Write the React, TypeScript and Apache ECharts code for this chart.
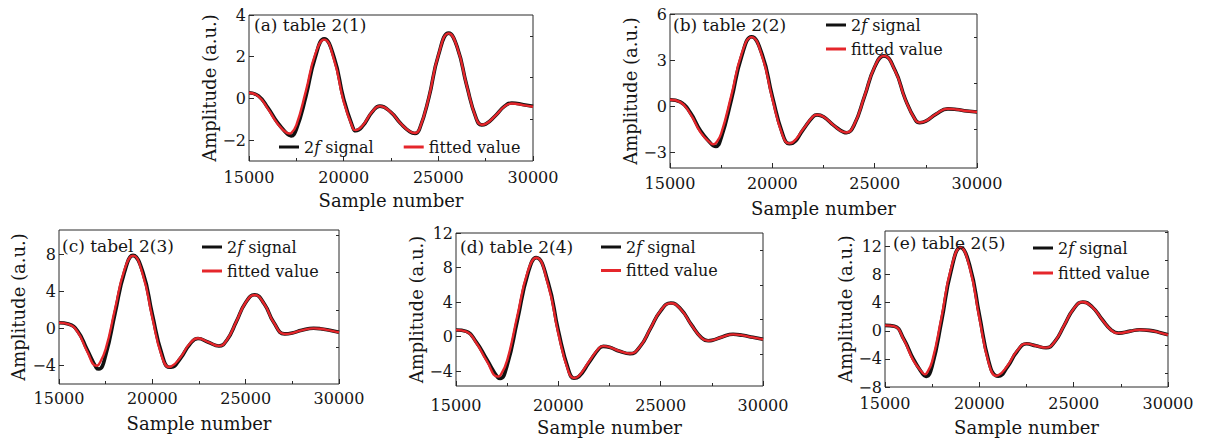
import React, { useEffect, useRef } from 'react';
import * as echarts from 'echarts';

// ---------- data ----------
const X_A = [15000, 15500, 16000, 16500, 17000, 17150, 17230, 17500, 18000, 18500, 18970, 19500, 20000, 20500, 20630, 21000, 21500, 21910, 22500, 23000, 23500, 23770, 24000, 24500, 25000, 25550, 26000, 26500, 27000, 27290, 27500, 28000, 28500, 28880, 29500, 30000];
const FIT_A = [0.27, 0.1, -0.5, -1.2, -1.65, -1.68, -1.66, -1.28, 0.34, 2.12, 2.82, 1.82, -0.15, -1.46, -1.52, -1.3, -0.64, -0.37, -0.67, -1.19, -1.59, -1.66, -1.47, 0.06, 2.08, 3.12, 2.44, 0.61, -0.97, -1.26, -1.22, -0.84, -0.38, -0.24, -0.32, -0.4];
const SIG_A = [0.27, 0.12, -0.45, -1.15, -1.68, -1.77, -1.8, -1.48, 0.08, 1.98, 2.86, 1.95, -0.02, -1.42, -1.55, -1.33, -0.66, -0.37, -0.67, -1.19, -1.6, -1.68, -1.48, 0.04, 2.06, 3.13, 2.45, 0.62, -0.96, -1.27, -1.23, -0.84, -0.37, -0.22, -0.3, -0.38];

const X_B = [15000, 15500, 16000, 16500, 17000, 17115, 17245, 17500, 18000, 18500, 18985, 19500, 20000, 20500, 20825, 21000, 21500, 22000, 22190, 22500, 23000, 23500, 23620, 24000, 24500, 25000, 25445, 26000, 26500, 27000, 27200, 27500, 28000, 28580, 29000, 29500, 30000];
const FIT_B = [0.43, 0.28, -0.5, -1.7, -2.4, -2.46, -2.38, -1.76, 0.73, 3.41, 4.5, 3.25, 0.49, -1.88, -2.4, -2.33, -1.49, -0.63, -0.54, -0.67, -1.23, -1.67, -1.69, -1.18, 0.66, 2.58, 3.28, 2.3, 0.44, -0.91, -1.05, -0.95, -0.49, -0.15, -0.2, -0.3, -0.36];
const SIG_B = [0.43, 0.3, -0.42, -1.6, -2.42, -2.55, -2.6, -2.05, 0.45, 3.25, 4.52, 3.38, 0.65, -1.78, -2.42, -2.38, -1.52, -0.65, -0.55, -0.67, -1.23, -1.68, -1.71, -1.2, 0.63, 2.56, 3.28, 2.33, 0.46, -0.9, -1.06, -0.96, -0.5, -0.16, -0.2, -0.3, -0.36];

const X_C = [15000, 15500, 16000, 16500, 17000, 17140, 17500, 18000, 18500, 18964, 19500, 20000, 20500, 20893, 21000, 21500, 22000, 22445, 23000, 23570, 24000, 24500, 25000, 25480, 26000, 26500, 27090, 27500, 28000, 28640, 29000, 29500, 30000];
const FIT_C = [0.61, 0.45, -0.4, -2.45, -4.03, -3.88, -2.23, 2.08, 6.28, 7.84, 5.7, 1.14, -2.98, -4.17, -4.13, -3.14, -1.66, -1.07, -1.49, -1.89, -1.23, 0.74, 2.79, 3.6, 2.61, 0.64, -0.61, -0.51, -0.22, 0.0, -0.05, -0.22, -0.43];
const SIG_C = [0.61, 0.47, -0.3, -2.25, -4.25, -4.39, -2.9, 1.6, 6.0, 7.86, 6.0, 1.5, -2.7, -4.2, -4.2, -3.25, -1.75, -1.1, -1.5, -1.9, -1.25, 0.72, 2.78, 3.62, 2.63, 0.66, -0.6, -0.5, -0.21, 0.01, -0.04, -0.21, -0.42];

const X_D = [15000, 15500, 16000, 16500, 17048, 17161, 17500, 18000, 18500, 18917, 19500, 20000, 20500, 20770, 21000, 21500, 22000, 22200, 22500, 23000, 23500, 24000, 24500, 25000, 25499, 26000, 26500, 27000, 27319, 27500, 28000, 28538, 29000, 29500, 30000];
const FIT_D = [0.78, 0.6, -0.75, -2.8, -4.62, -4.5, -2.73, 2.45, 7.51, 9.13, 6.0, 0.35, -4.06, -4.78, -4.55, -2.87, -1.27, -1.09, -1.2, -1.67, -1.94, -1.09, 0.97, 3.03, 3.88, 3.12, 1.37, -0.15, -0.47, -0.43, -0.03, 0.27, 0.15, -0.08, -0.31];
const SIG_D = [0.78, 0.62, -0.65, -2.6, -4.72, -4.82, -3.3, 1.9, 7.2, 9.15, 6.3, 0.7, -3.85, -4.8, -4.62, -2.98, -1.35, -1.12, -1.22, -1.68, -1.96, -1.12, 0.94, 3.0, 3.9, 3.15, 1.4, -0.13, -0.46, -0.42, -0.02, 0.28, 0.16, -0.07, -0.3];

const X_E = [15000, 15500, 16000, 16500, 17000, 17107, 17196, 17500, 18000, 18500, 19002, 19500, 20000, 20500, 20879, 21000, 21500, 22000, 22508, 23000, 23535, 24000, 24500, 25000, 25483, 26000, 26500, 27000, 27378, 28000, 28494, 29000, 29500, 30000];
const FIT_E = [0.77, 0.62, -1.3, -4.2, -6.0, -6.2, -6.1, -4.35, 2.0, 8.88, 11.83, 8.84, 1.82, -4.63, -6.39, -6.33, -4.94, -2.84, -1.83, -2.13, -2.4, -1.53, 0.8, 3.15, 4.09, 3.33, 1.62, 0.08, -0.34, -0.06, 0.14, 0.05, -0.22, -0.58];
const SIG_E = [0.77, 0.64, -1.2, -4.0, -6.15, -6.4, -6.49, -5.0, 1.4, 8.5, 11.85, 9.2, 2.3, -4.35, -6.4, -6.45, -5.1, -2.95, -1.85, -2.14, -2.42, -1.55, 0.78, 3.13, 4.1, 3.35, 1.64, 0.1, -0.33, -0.05, 0.15, 0.06, -0.21, -0.57];

const X_TICKS = [15000, 20000, 25000, 30000];
const Y_MAJOR_A = [-2, 0, 2, 4];
const Y_MINOR_A = [-1, 1, 3];
const Y_MAJOR_B = [-3, 0, 3, 6];
const Y_MINOR_B = [-1.5, 1.5, 4.5];
const Y_MAJOR_C = [-4, 0, 4, 8];
const Y_MINOR_C = [-2, 2, 6, 10];
const Y_MAJOR_D = [-4, 0, 4, 8, 12];
const Y_MINOR_D = [-2, 2, 6, 10];
const Y_MAJOR_E = [-8, -4, 0, 4, 8, 12];
const Y_MINOR_E = [-6, -2, 2, 6, 10, 14];

const PANEL_LABELS = ['(a) table 2(1)', '(b) table 2(2)', '(c) tabel 2(3)', '(d) table 2(4)', '(e) table 2(5)'];
const SERIES_NAMES = ['2f signal', 'fitted value'];
const X_NAME = 'Sample number';
const Y_NAME = 'Amplitude (a.u.)';

// ---------- layout / style ----------
const FONT = '"DejaVu Serif", serif';
const TXT = '#151515';
const FRAME = '#2a2a2a';
const BLACK = '#111111';
const RED = '#e5262b';

const panels = [
  { x: X_A, sig: SIG_A, fit: FIT_A, yMin: -3, yMax: 4, maj: Y_MAJOR_A, mnr: Y_MINOR_A,
    grid: { left: 249, top: 15, width: 284, height: 146 }, xMargin: 8, xGap: 30, yGap: 30,
    legend: { orient: 'horizontal', left: 279, top: 138, itemGap: 30 }, title: { left: 254, top: 16 } },
  { x: X_B, sig: SIG_B, fit: FIT_B, yMin: -4, yMax: 6, maj: Y_MAJOR_B, mnr: Y_MINOR_B,
    grid: { left: 670, top: 14, width: 307, height: 154 }, xMargin: 7, xGap: 31, yGap: 30,
    legend: { orient: 'vertical', left: 826, top: 16, itemGap: 6 }, title: { left: 673, top: 16 } },
  { x: X_C, sig: SIG_C, fit: FIT_C, yMin: -6, yMax: 10.6, maj: Y_MAJOR_C, mnr: Y_MINOR_C,
    grid: { left: 59, top: 230, width: 280, height: 154 }, xMargin: 6, xGap: 30, yGap: 32,
    legend: { orient: 'vertical', left: 202, top: 238, itemGap: 6 }, title: { left: 62, top: 237 } },
  { x: X_D, sig: SIG_D, fit: FIT_D, yMin: -5.7, yMax: 12, maj: Y_MAJOR_D, mnr: Y_MINOR_D,
    grid: { left: 456, top: 233, width: 307, height: 153 }, xMargin: 11, xGap: 32, yGap: 29,
    legend: { orient: 'vertical', left: 601, top: 238, itemGap: 5.5 }, title: { left: 460, top: 238 } },
  { x: X_E, sig: SIG_E, fit: FIT_E, yMin: -8, yMax: 14.2, maj: Y_MAJOR_E, mnr: Y_MINOR_E,
    grid: { left: 885, top: 231, width: 283, height: 156 }, xMargin: 8, xGap: 31, yGap: 30,
    legend: { orient: 'vertical', left: 1033, top: 239, itemGap: 7 }, title: { left: 893, top: 234 } },
];

const minus = (v: number) => String(v).replace('-', '\u2212');

function buildOption() {
  const grid: any[] = [];
  const xAxis: any[] = [];
  const yAxis: any[] = [];
  const series: any[] = [];
  const legend: any[] = [];
  const title: any[] = [];

  panels.forEach((p, i) => {
    grid.push({ ...p.grid, show: true, borderColor: FRAME, borderWidth: 1, backgroundColor: 'transparent' });
    xAxis.push({
      type: 'value', gridIndex: i, min: 15000, max: 30000, interval: 5000,
      axisLine: { show: false, onZero: false },
      axisTick: { show: true, inside: true, length: 5, lineStyle: { color: FRAME } },
      minorTick: { show: true, splitNumber: 2, length: 3, lineStyle: { color: FRAME } },
      splitLine: { show: false }, minorSplitLine: { show: false },
      axisLabel: { margin: p.xMargin, fontSize: 16, fontFamily: FONT, color: TXT,
        customValues: X_TICKS, formatter: (v: number) => String(v) },
      name: X_NAME, nameLocation: 'middle', nameGap: p.xGap,
      nameTextStyle: { fontSize: 18, fontFamily: FONT, color: TXT },
    });
    yAxis.push({
      type: 'value', gridIndex: i, min: p.yMin, max: p.yMax,
      axisLine: { show: false, onZero: false }, splitLine: { show: false },
      axisTick: { show: true, inside: true, length: 5, customValues: p.maj, lineStyle: { color: FRAME } },
      axisLabel: { customValues: p.maj, margin: 3, fontSize: 16, fontFamily: FONT, color: TXT, formatter: minus },
      name: Y_NAME, nameLocation: 'middle', nameGap: p.yGap, nameRotate: 90,
      nameTextStyle: { fontSize: 18, fontFamily: FONT, color: TXT },
    });
    yAxis.push({
      type: 'value', gridIndex: i, min: p.yMin, max: p.yMax,
      axisLine: { show: false, onZero: false }, splitLine: { show: false },
      axisTick: { show: true, inside: true, length: 3, customValues: p.mnr, lineStyle: { color: FRAME } },
      axisLabel: { show: false },
    });
    series.push({
      type: 'line', name: SERIES_NAMES[0], xAxisIndex: i, yAxisIndex: 2 * i,
      data: p.x.map((x, k) => [x, p.sig[k]]), showSymbol: false, smooth: 0.5,
      lineStyle: { color: BLACK, width: 3.6 }, itemStyle: { color: BLACK }, z: 2,
    });
    series.push({
      type: 'line', name: SERIES_NAMES[1], xAxisIndex: i, yAxisIndex: 2 * i,
      data: p.x.map((x, k) => [x, p.fit[k]]), showSymbol: false, smooth: 0.5,
      lineStyle: { color: RED, width: 2.4 }, itemStyle: { color: RED }, z: 3,
    });
    legend.push({
      data: SERIES_NAMES, ...p.legend, padding: 0, selectedMode: false,
      icon: 'rect', itemWidth: 20, itemHeight: 3,
      formatter: (n: string) => (n === '2f signal' ? '2{i|f} signal' : n),
      textStyle: {
        fontSize: 16, fontFamily: FONT, color: TXT, lineHeight: 18,
        rich: { i: { fontStyle: 'italic', fontSize: 16, fontFamily: FONT, color: TXT, lineHeight: 18 } },
      },
    });
    title.push({
      text: PANEL_LABELS[i], ...p.title, padding: 0,
      textStyle: { fontSize: 17, fontWeight: 'normal', fontFamily: FONT, color: TXT },
    });
  });

  return { animation: false, backgroundColor: '#ffffff', grid, xAxis, yAxis, series, legend, title };
}

export default function App() {
  const ref = useRef<HTMLDivElement>(null);
  useEffect(() => {
    const chart = echarts.init(ref.current!, null, { renderer: 'svg' });
    chart.setOption(buildOption() as any);
    return () => chart.dispose();
  }, []);
  return (
    <div
      ref={ref}
      style={{ position: 'absolute', left: 0, top: 0, width: 1213, height: 438, background: '#fff' }}
    />
  );
}
